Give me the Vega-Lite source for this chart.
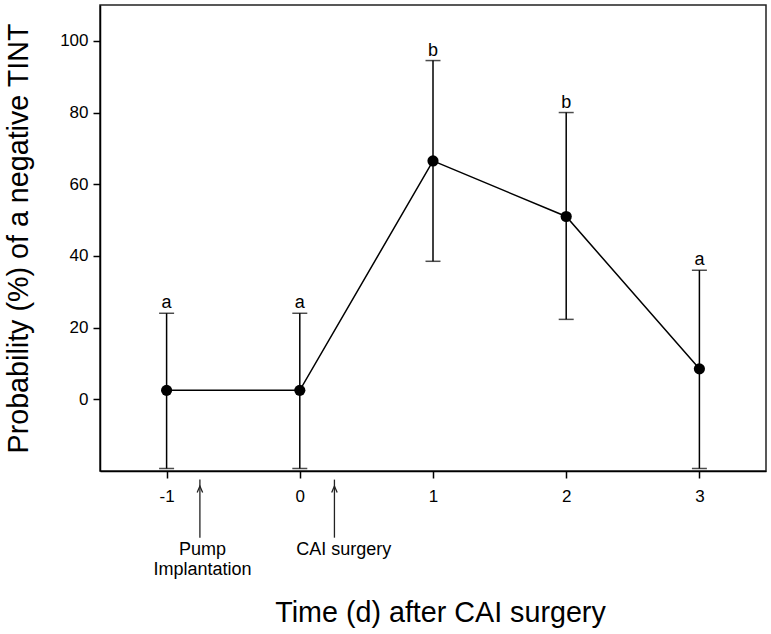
{
  "$schema": "https://vega.github.io/schema/vega-lite/v6.json",
  "width": 666,
  "height": 466,
  "autosize": {"type": "none"},
  "padding": {"left": 100, "top": 5, "right": 5, "bottom": 163},
  "background": "white",
  "config": {
    "view": {"stroke": "#222", "strokeWidth": 1.5},
    "font": "Liberation Sans",
    "axis": {"grid": false, "domainColor": "black", "tickColor": "black", "labelColor": "black", "titleColor": "black", "labelFont": "Liberation Sans", "titleFont": "Liberation Sans", "titleFontWeight": "normal", "domainWidth": 1.5, "tickWidth": 1.5}
  },
  "datasets": {
    "pts": [
      {"t": -1, "mean": 2.5, "lo": -19.3, "hi": 24, "letter": "a"},
      {"t": 0, "mean": 2.5, "lo": -19.3, "hi": 24, "letter": "a"},
      {"t": 1, "mean": 66.5, "lo": 38.5, "hi": 94.5, "letter": "b"},
      {"t": 2, "mean": 51, "lo": 22.3, "hi": 80, "letter": "b"},
      {"t": 3, "mean": 8.5, "lo": -19.3, "hi": 36, "letter": "a"}
    ],
    "arrows": [
      {"x": -0.75, "y1": -38.6, "y2": -22.4},
      {"x": 0.26, "y1": -38.6, "y2": -22.4}
    ],
    "notes": [
      {"x": -0.73, "y": -41.9, "label": "Pump"},
      {"x": -0.73, "y": -47.5, "label": "Implantation"},
      {"x": 0.33, "y": -41.9, "label": "CAI surgery"}
    ]
  },
  "layer": [
    {
      "data": {"name": "pts"},
      "mark": {"type": "rule", "color": "black", "strokeWidth": 1.5},
      "encoding": {
        "x": {"field": "t", "type": "quantitative", "scale": {"domain": [-1.5, 3.5], "nice": false, "zero": false},
          "axis": {"values": [-1, 0, 1, 2, 3], "labelExpr": "'' + datum.value", "title": "Time (d) after CAI surgery", "titleFontSize": 28.7, "titleX": 340, "labelFontSize": 17, "tickSize": 7, "labelPadding": 10, "titlePadding": 94, "labelFlush": false}},
        "y": {"field": "lo", "type": "quantitative", "scale": {"domain": [-20, 110], "nice": false, "zero": false},
          "axis": {"values": [0, 20, 40, 60, 80, 100], "title": "Probability (%) of a negative TINT", "titleFontSize": 28.7, "labelFontSize": 17, "tickSize": 7, "labelPadding": 5, "titlePadding": 26, "labelFlush": false}},
        "y2": {"field": "hi"}
      }
    },
    {
      "data": {"name": "pts"},
      "mark": {"type": "tick", "color": "black", "thickness": 1.5, "size": 15, "orient": "horizontal"},
      "encoding": {
        "x": {"field": "t", "type": "quantitative"},
        "y": {"field": "hi", "type": "quantitative"}
      }
    },
    {
      "data": {"name": "pts"},
      "mark": {"type": "tick", "color": "black", "thickness": 1.5, "size": 15, "orient": "horizontal"},
      "encoding": {
        "x": {"field": "t", "type": "quantitative"},
        "y": {"field": "lo", "type": "quantitative"}
      }
    },
    {
      "data": {"name": "pts"},
      "mark": {"type": "line", "color": "black", "strokeWidth": 1.5},
      "encoding": {
        "x": {"field": "t", "type": "quantitative"},
        "y": {"field": "mean", "type": "quantitative"}
      }
    },
    {
      "data": {"name": "pts"},
      "mark": {"type": "point", "filled": true, "color": "black", "opacity": 1, "size": 125},
      "encoding": {
        "x": {"field": "t", "type": "quantitative"},
        "y": {"field": "mean", "type": "quantitative"}
      }
    },
    {
      "data": {"name": "pts"},
      "mark": {"type": "text", "fontSize": 18, "baseline": "alphabetic", "dy": -5, "color": "black"},
      "encoding": {
        "x": {"field": "t", "type": "quantitative"},
        "y": {"field": "hi", "type": "quantitative"},
        "text": {"field": "letter"}
      }
    },
    {
      "data": {"name": "arrows"},
      "mark": {"type": "rule", "color": "#222", "strokeWidth": 1.3},
      "encoding": {
        "x": {"field": "x", "type": "quantitative"},
        "y": {"field": "y1", "type": "quantitative"},
        "y2": {"field": "y2"}
      }
    },
    {
      "data": {"name": "arrows"},
      "mark": {"type": "point", "shape": "M-0.42,1L0,0L0.42,1", "filled": false, "color": "#222", "strokeWidth": 1.3, "size": 170, "opacity": 1, "yOffset": 6.5},
      "encoding": {
        "x": {"field": "x", "type": "quantitative"},
        "y": {"field": "y2", "type": "quantitative"}
      }
    },
    {
      "data": {"name": "notes"},
      "mark": {"type": "text", "fontSize": 18, "baseline": "middle", "color": "black"},
      "encoding": {
        "x": {"field": "x", "type": "quantitative"},
        "y": {"field": "y", "type": "quantitative"},
        "text": {"field": "label"}
      }
    }
  ]
}
